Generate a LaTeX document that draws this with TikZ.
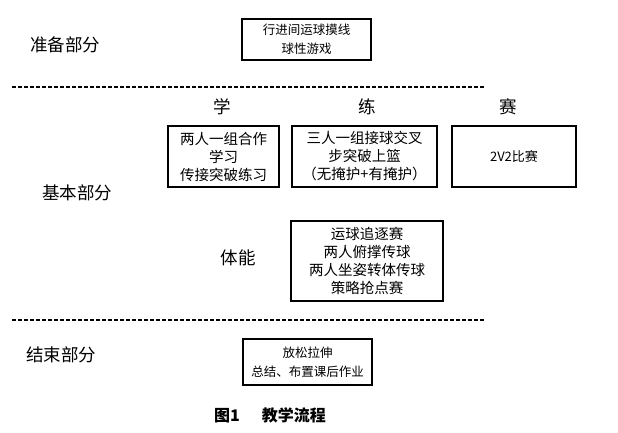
\documentclass[tikz,border=0pt]{standalone}
\usepackage{fontspec}
\setmainfont{Noto Sans CJK SC}
\usetikzlibrary{positioning}
\tikzset{
  flowbox/.style={draw, line width=1.1pt, align=center, inner sep=0pt},
  smalltext/.style={font=\fontsize{12.5}{19}\selectfont},
  bigtext/.style={font=\fontsize{14.5}{18}\selectfont},
  partlabel/.style={font=\fontsize{17.5}{20}\selectfont},
  divider/.style={line width=1.8pt, dash pattern=on 4.3pt off 1.7pt}
}

\begin{document}
\begin{tikzpicture}[x=1pt, y=-1pt]
  \useasboundingbox (0,0) rectangle (618,433);

  % Part labels
  \node[partlabel] (prep) at (65,45) {准备部分};
  \node[partlabel] (basic) at (77,193) {基本部分};
  \node[partlabel] (ending) at (61,355) {结束部分};

  % Warm-up
  \node[flowbox, smalltext, minimum width=129, minimum height=41] (warmup) at (306.5,39.5) {行进间运球摸线\\球性游戏};

  % Dividers
  \coordinate (d1a) at (12,87);
  \coordinate (d1b) at (485,87);
  \coordinate (d2a) at (12,320);
  \coordinate (d2b) at (485,320);
  \draw[divider] (d1a) -- (d1b);
  \draw[divider] (d2a) -- (d2b);

  % Learn, practise, match
  \node[partlabel] (learnhd) at (222,107) {学};
  \node[partlabel] (practhd) at (367,107) {练};
  \node[partlabel] (matchhd) at (508,107) {赛};
  \node[flowbox, bigtext, minimum width=111, minimum height=61] (learn) at (223.5,156.5) {两人一组合作\\学习\\传接突破练习};
  \node[flowbox, bigtext, minimum width=145, minimum height=61] (practice) at (364.5,156.5) {三人一组接球交叉\\步突破上篮\\（无掩护+有掩护）};
  \node[flowbox, font=\fontsize{13}{16}\selectfont, minimum width=124, minimum height=61] (match) at (514,156.5) {2V2比赛};

  % Fitness
  \node[partlabel] (fithd) at (238,258) {体能};
  \node[flowbox, bigtext, minimum width=152, minimum height=80] (fitness) at (367,261) {运球追逐赛\\两人俯撑传球\\两人坐姿转体传球\\策略抢点赛};

  % Cool-down
  \node[flowbox, smalltext, minimum width=129, minimum height=46] (cooldown) at (307.5,362) {放松拉伸\\总结、布置课后作业};

  % Caption
  \node[font=\fontsize{16}{18}\selectfont\bfseries] (caption) at (270,415) {图1\hspace{22pt}教学流程};
\end{tikzpicture}
\end{document}
